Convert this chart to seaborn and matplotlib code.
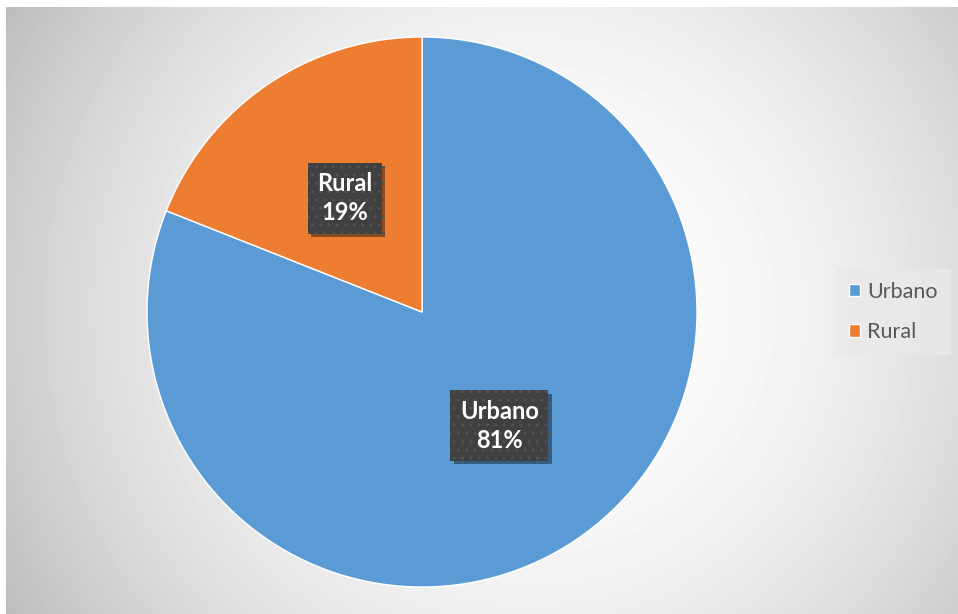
import numpy as np
import matplotlib
matplotlib.use("Agg")
import matplotlib.pyplot as plt
import matplotlib.patheffects as pe
import seaborn as sns

# Population distribution by area
categories = ["Urbano", "Rural"]
shares = [81, 19]
slice_colors = ["#5B9BD5", "#ED7D31"]

sns.set_theme(style="white")
plt.rcParams["font.family"] = ["Lato", "DejaVu Sans"]
plt.rcParams["hatch.linewidth"] = 1.0

W, H = 958, 614
fig = plt.figure(figsize=(W / 100, H / 100), dpi=100)
fig.patch.set_facecolor("white")

# Chart area with a soft radial gradient background (pixel grid)
x0, y0 = 6, 7
bg = fig.add_axes([x0 / W, 0, 1 - x0 / W, 1 - y0 / H])
bg.set_axis_off()
px = np.arange(x0, W) + 0.5
py = np.arange(y0, H) + 0.5
gx, gy = np.meshgrid(px, py)
rad = np.hypot(gx - 530, gy - 310) / 560.0
shade = np.clip(255 - 57 * rad ** 2, 0, 255) / 255.0
bg.imshow(shade, cmap="gray", vmin=0, vmax=1, aspect="auto",
          extent=[0, 1, 0, 1], interpolation="bilinear")

# Pie
cx, cy, r = 422, 312, 275
ax = fig.add_axes([(cx - r) / W, (H - cy - r) / H, 2 * r / W, 2 * r / H])
ax.set_axis_off()
palette = sns.color_palette(slice_colors)
wedges, _ = ax.pie(shares, colors=palette, startangle=90, counterclock=False,
                   radius=1, wedgeprops=dict(edgecolor="white", linewidth=1))
ax.set_xlim(-1, 1)
ax.set_ylim(-1, 1)

# Data labels inside dotted dark boxes with a drop shadow
total = sum(shares)
angle = 90.0
for w, cat, val in zip(wedges, categories, shares):
    sweep = 360.0 * val / total
    mid = np.deg2rad(angle - sweep / 2)
    angle -= sweep
    lx, ly = 0.5 * np.cos(mid), 0.5 * np.sin(mid)
    txt = f"{cat}\n{val / total * 100:.0f}%"
    t = ax.text(lx, ly, txt, ha="center", va="center", fontsize=17,
                fontweight="bold", color="white", linespacing=1.3,
                bbox=dict(boxstyle="square,pad=0.4", facecolor="#404040",
                          edgecolor="#525252", linewidth=0, hatch=".."))
    t.get_bbox_patch().set_path_effects(
        [pe.SimplePatchShadow(offset=(2.5, -2.5), shadow_rgbFace="#000000",
                              alpha=0.4), pe.Normal()])

# Legend
leg = fig.legend(wedges, categories, loc="center left",
                 bbox_to_anchor=(836 / W, 1 - 312 / H), frameon=True,
                 fancybox=False, fontsize=15.5, handlelength=0.5,
                 handleheight=0.5, handletextpad=0.35, labelspacing=0.95,
                 borderpad=0.6, borderaxespad=0)
leg.get_frame().set_facecolor("#e9e9e9")
leg.get_frame().set_edgecolor("none")
for t in leg.get_texts():
    t.set_color("#595959")

fig.savefig("out.png", dpi=100, facecolor=fig.get_facecolor())
